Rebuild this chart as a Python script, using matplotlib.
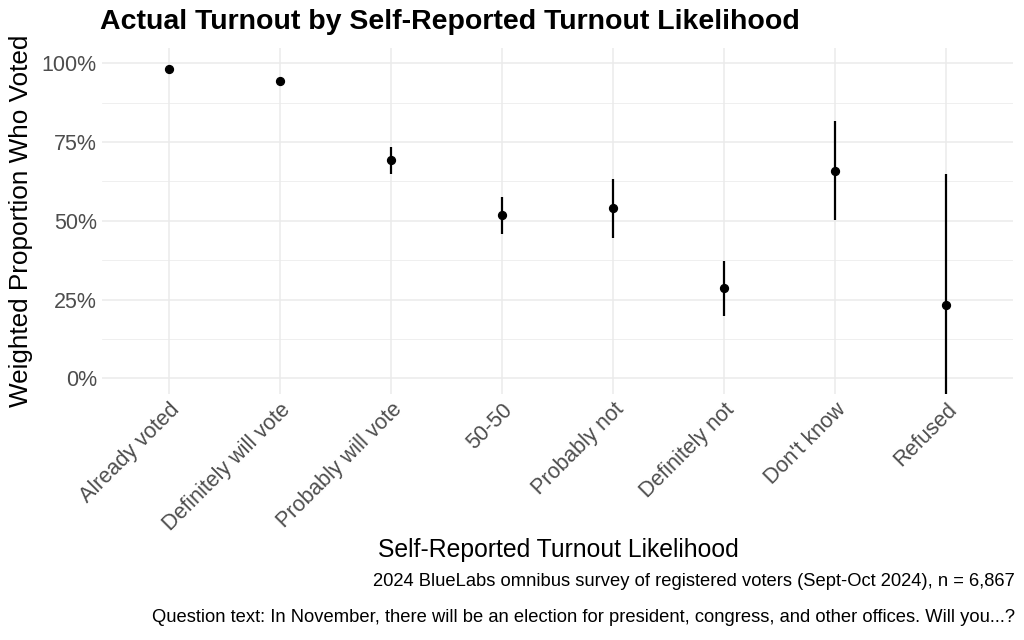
import numpy as np
import matplotlib.pyplot as plt

plt.rcParams['font.family'] = ['Liberation Sans', 'DejaVu Sans']

categories = ["Already voted", "Definitely will vote", "Probably will vote", "50-50",
              "Probably not", "Definitely not", "Don't know", "Refused"]
turnout = [98.1, 94.3, 69.3, 51.9, 54.1, 28.8, 65.8, 23.4]
lower = [98.1, 94.3, 64.9, 45.9, 44.6, 19.9, 50.3, -6.0]
upper = [98.1, 94.3, 73.4, 57.6, 63.3, 37.3, 81.6, 64.9]

fig = plt.figure(figsize=(10.24, 6.4), dpi=100)
ax = fig.add_axes([0.1, 0.385, 0.889, 0.54])

x = np.arange(len(categories))
ax.vlines(x, lower, upper, color='black', linewidth=1.6, zorder=3)
ax.scatter(x, turnout, s=32, color='black', zorder=4)

ax.set_xlim(-0.6, len(categories) - 0.4)
ax.set_ylim(-4.8, 104.8)
ax.set_yticks([0, 25, 50, 75, 100])
ax.set_yticks([12.5, 37.5, 62.5, 87.5], minor=True)
ax.set_yticklabels(["0%", "25%", "50%", "75%", "100%"])
ax.set_xticks(x)
ax.set_xticklabels(categories, rotation=45, ha='right', rotation_mode='anchor')

ax.grid(True, which='major', color='#ebebeb', linewidth=1.1)
ax.grid(True, which='minor', axis='y', color='#ebebeb', linewidth=0.55)
ax.set_axisbelow(True)
for s in ax.spines.values():
    s.set_visible(False)
ax.tick_params(which='both', length=0, labelsize=15.5, labelcolor='#4d4d4d', pad=4)

ax.set_ylabel("Weighted Proportion Who Voted", fontsize=18.8, labelpad=6)
fig.text(0.545, 0.14, "Self-Reported Turnout Likelihood", fontsize=17.8,
         ha='center', va='center')
fig.text(0.098, 0.966, "Actual Turnout by Self-Reported Turnout Likelihood",
         fontsize=20.5, fontweight='bold', ha='left', va='center')
fig.text(0.991, 0.092, "2024 BlueLabs omnibus survey of registered voters (Sept-Oct 2024), n = 6,867",
         fontsize=13.2, ha='right', va='center')
fig.text(0.991, 0.035, "Question text: In November, there will be an election for president, congress, and other offices. Will you...?",
         fontsize=13.2, ha='right', va='center')

fig.savefig("out.png", dpi=100)
